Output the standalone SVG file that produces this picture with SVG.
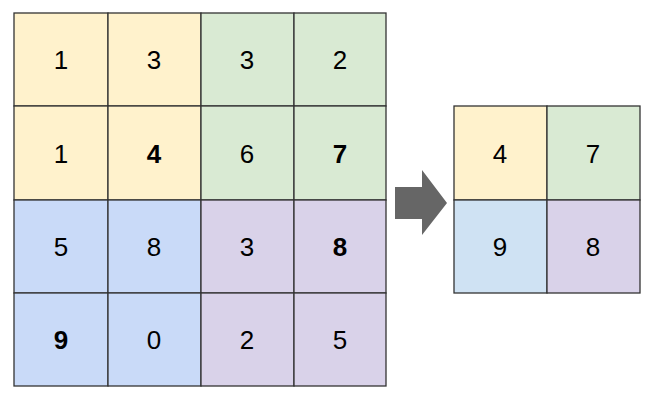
<svg xmlns="http://www.w3.org/2000/svg" width="654" height="402" viewBox="0 0 654 402">
<style>
.c{stroke:#333;stroke-width:1.3}
.y{fill:#fff2cc}.g{fill:#d9ead3}.b{fill:#c9daf8}.p{fill:#d9d2e9}.lb{fill:#cfe2f3}
text{font-family:"Liberation Sans",Arial,sans-serif;font-size:26px;fill:#000;text-anchor:middle;dominant-baseline:central}
.bo{font-weight:bold}
</style>
<rect width="654" height="402" fill="#fff"/>
<g id="input">
<rect class="c y" x="14" y="13" width="94" height="93"/><text x="61" y="60">1</text>
<rect class="c y" x="108" y="13" width="93" height="93"/><text x="154" y="60">3</text>
<rect class="c g" x="201" y="13" width="93" height="93"/><text x="247" y="60">3</text>
<rect class="c g" x="294" y="13" width="92" height="93"/><text x="340" y="60">2</text>
<rect class="c y" x="14" y="106" width="94" height="94"/><text x="61" y="154">1</text>
<rect class="c y" x="108" y="106" width="93" height="94"/><text class="bo" x="154" y="154">4</text>
<rect class="c g" x="201" y="106" width="93" height="94"/><text x="247" y="154">6</text>
<rect class="c g" x="294" y="106" width="92" height="94"/><text class="bo" x="340" y="154">7</text>
<rect class="c b" x="14" y="200" width="94" height="93"/><text x="61" y="247">5</text>
<rect class="c b" x="108" y="200" width="93" height="93"/><text x="154" y="247">8</text>
<rect class="c p" x="201" y="200" width="93" height="93"/><text x="247" y="247">3</text>
<rect class="c p" x="294" y="200" width="92" height="93"/><text class="bo" x="340" y="247">8</text>
<rect class="c b" x="14" y="293" width="94" height="93"/><text class="bo" x="61" y="340">9</text>
<rect class="c b" x="108" y="293" width="93" height="93"/><text x="154" y="340">0</text>
<rect class="c p" x="201" y="293" width="93" height="93"/><text x="247" y="340">2</text>
<rect class="c p" x="294" y="293" width="92" height="93"/><text x="340" y="340">5</text>
</g>
<g id="connectors">
<polygon points="395,187 422,187 422,170 447,203 422,235 422,219 395,219" fill="#666"/>
</g>
<g id="output">
<rect class="c y" x="454" y="106" width="93" height="94"/><text x="500" y="154">4</text>
<rect class="c g" x="547" y="106" width="93" height="94"/><text x="593" y="154">7</text>
<rect class="c lb" x="454" y="200" width="93" height="93"/><text x="500" y="247">9</text>
<rect class="c p" x="547" y="200" width="93" height="93"/><text x="593" y="247">8</text>
</g>
</svg>
